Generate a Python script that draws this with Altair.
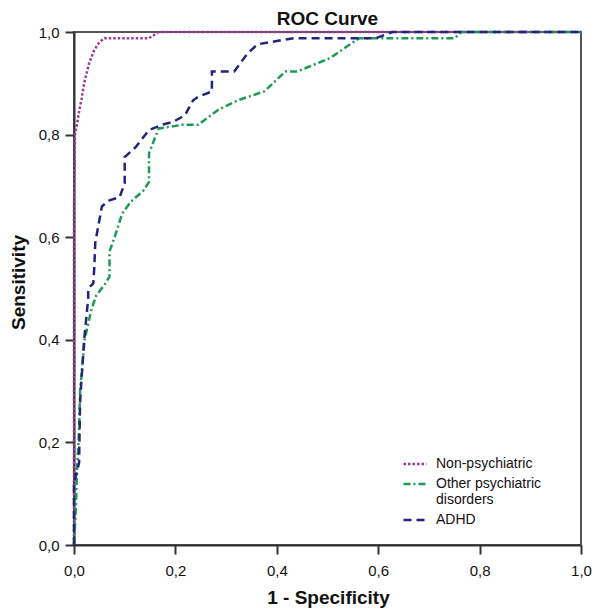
import altair as alt
import pandas as pd

series_names = ["Non-psychiatric", "Other psychiatric disorders", "ADHD"]

nonpsy_x = [0.0, 0.0, 0.002, 0.006, 0.010, 0.015, 0.020, 0.030, 0.040, 0.050, 0.060, 0.148, 0.167, 1.0]
nonpsy_y = [0.0, 0.66, 0.80, 0.82, 0.845, 0.87, 0.90, 0.94, 0.965, 0.98, 0.988, 0.988, 1.0, 1.0]

other_x = [0.0, 0.004, 0.006, 0.010, 0.012, 0.021, 0.034, 0.044, 0.060, 0.070, 0.070, 0.080, 0.095,
           0.112, 0.138, 0.148, 0.148, 0.167, 0.213, 0.245, 0.284, 0.323, 0.375, 0.417, 0.440,
           0.505, 0.543, 0.563, 0.751, 0.764, 1.0]
other_y = [0.0, 0.08, 0.15, 0.22, 0.30, 0.40, 0.458, 0.487, 0.507, 0.523, 0.572, 0.60, 0.646,
           0.669, 0.692, 0.708, 0.764, 0.812, 0.819, 0.819, 0.848, 0.867, 0.884, 0.923, 0.923,
           0.949, 0.975, 0.988, 0.988, 1.0, 1.0]

adhd_x = [0.0, 0.0, 0.010, 0.012, 0.020, 0.028, 0.028, 0.038, 0.040, 0.042, 0.055, 0.070, 0.090,
          0.100, 0.100, 0.122, 0.148, 0.173, 0.196, 0.219, 0.235, 0.245, 0.272, 0.272, 0.316,
          0.342, 0.362, 0.433, 0.595, 0.628, 1.0]
adhd_y = [0.0, 0.12, 0.16, 0.28, 0.40, 0.48, 0.50, 0.51, 0.54, 0.59, 0.66, 0.672, 0.678,
          0.705, 0.756, 0.776, 0.809, 0.819, 0.825, 0.838, 0.867, 0.874, 0.884, 0.923, 0.923,
          0.958, 0.976, 0.988, 0.988, 1.0, 1.0]

tick_values = [0.0, 0.2, 0.4, 0.6, 0.8, 1.0]

rows = []
for name, xs, ys in [(series_names[0], nonpsy_x, nonpsy_y),
                     (series_names[1], other_x, other_y),
                     (series_names[2], adhd_x, adhd_y)]:
    for i, (x, y) in enumerate(zip(xs, ys)):
        rows.append({"series": name, "fpr": x, "tpr": y, "order": i})
df = pd.DataFrame(rows)

colors = ["#9c3a9a", "#1f9a55", "#24247a"]
dashes = [[2.5, 2], [7, 3, 2, 3], [8, 5]]

FONT = "Liberation Sans"
label_expr = "replace(format(datum.value, '.1f'), '.', ',')"

chart = alt.Chart(df).mark_line(strokeWidth=2.5).encode(
    x=alt.X("fpr:Q", scale=alt.Scale(domain=[0, 1], nice=False),
            axis=alt.Axis(values=tick_values, labelExpr=label_expr, title="1 - Specificity",
                          grid=False, tickSize=9, labelPadding=9, labelFlush=False,
                          titleX=254, titleY=58, titleBaseline="alphabetic")),
    y=alt.Y("tpr:Q", scale=alt.Scale(domain=[0, 1], nice=False),
            axis=alt.Axis(values=tick_values, labelExpr=label_expr, title="Sensitivity",
                          grid=False, tickSize=9, labelPadding=6, labelFlush=False,
                          titleX=-56, titleY=250, titleAngle=270, titleBaseline="middle")),
    color=alt.Color("series:N", scale=alt.Scale(domain=series_names, range=colors),
                    legend=alt.Legend(title=None, orient="none", legendX=328, legendY=419,
                                      symbolType="stroke", symbolSize=529, symbolStrokeWidth=2.5,
                                      labelFontSize=14, labelFont=FONT, labelColor="#111",
                                      labelExpr="datum.label == 'Other psychiatric disorders' ? ['Other psychiatric', 'disorders'] : datum.label",
                                      labelLimit=300, rowPadding=-4, padding=0, labelOffset=8)),
    strokeDash=alt.StrokeDash("series:N", scale=alt.Scale(domain=series_names, range=dashes),
                              legend=None),
    order="order:Q",
).properties(
    width=507, height=513,
    title=alt.TitleParams("ROC Curve", fontSize=19, fontWeight="bold", font=FONT,
                          color="#111", offset=9, dy=13, anchor="middle", frame="group"),
    autosize=alt.AutoSizeParams(type="none"),
    padding={"left": 66, "top": 24, "right": 11, "bottom": 63},
).configure_view(
    stroke="#555", strokeWidth=2
).configure_axis(
    domainColor="#333", domainWidth=2, tickColor="#333", tickWidth=2,
    labelFont=FONT, labelFontSize=15, labelColor="#111",
    titleFont=FONT, titleFontSize=19, titleFontWeight="bold", titleColor="#111"
)

chart.save("out.html", embed_options={"renderer": "svg", "actions": False})
